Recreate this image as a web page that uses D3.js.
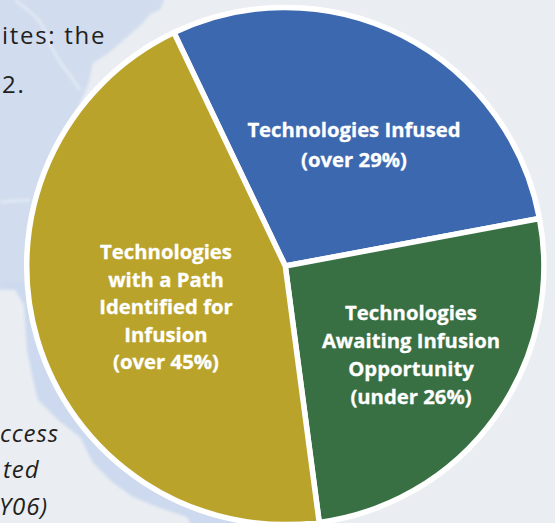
<!DOCTYPE html>
<html>
<head>
<meta charset="utf-8">
<script src="https://cdn.jsdelivr.net/npm/d3@7"></script>
<style>
html,body{margin:0;padding:0;background:#eaeef2;}
svg{display:block;}
</style>
</head>
<body>
<svg id="chart" width="555" height="523"></svg>
<script>
const categories = ["Technologies Infused", "Technologies Awaiting Infusion Opportunity", "Technologies with a Path Identified for Infusion"];
const shares = [29.2, 25.9, 45.1];
const sliceColors = ["#3c68af", "#387044", "#baa32b"];
const sliceLabels = [
  ["Technologies Infused", "(over 29%)"],
  ["Technologies", "Awaiting Infusion", "Opportunity", "(under 26%)"],
  ["Technologies", "with a Path", "Identified for", "Infusion", "(over 45%)"]
];
const labelAnchors = [[354, 137], [411, 320], [166, 259]];
const labelSteps = [30, 28, 27.5];
const bodyText = [
  {t: "ites: the", x: 2, y: 44, italic: false},
  {t: "2.", x: 2, y: 93, italic: false},
  {t: "ccess", x: 0, y: 442, italic: true},
  {t: "ted", x: 3, y: 478, italic: true},
  {t: "Y06)", x: -1, y: 515, italic: true}
];

const svg = d3.select("#chart");
const cx = 285.3, cy = 266, radius = 258.6;

const defs = svg.append("defs");
defs.append("filter").attr("id", "soft")
  .attr("x", "-5%").attr("y", "-5%").attr("width", "110%").attr("height", "110%")
  .append("feGaussianBlur").attr("stdDeviation", 1.6);

// Pale map of the coastline behind the pie
const land = [[-10,-10],[168,-10],[160,10],[150,14],[143,23],[127,37],[110,52],[93,63],[88,85],[80,103],[70,130],[60,160],[40,220],[30,290],[-10,290]];
const shore = [[-10,284],[14,288],[24,305],[27,350],[32,375],[38,400],[58,420],[80,437],[93,463],[112,482],[133,497],[160,508],[187,517],[200,540],[300,540],[300,300],[40,200],[30,280]];
const rivers = [[[15,0],[40,22],[52,48],[60,62],[72,78],[80,90]], [[0,202],[12,201],[30,200]]];
const outline = d3.line().curve(d3.curveLinearClosed);
const river = d3.line().curve(d3.curveCatmullRom);
const mapLayer = svg.append("g").attr("filter", "url(#soft)");
mapLayer.append("path").attr("d", outline(land)).attr("fill", "#d1dcee");
mapLayer.append("path").attr("d", outline(shore)).attr("fill", "#ccd9ee");
mapLayer.selectAll(".river").data(rivers).join("path").attr("class", "river")
  .attr("d", river).attr("fill", "none").attr("stroke", "#e4ebf5").attr("stroke-width", 2.5);

const pie = d3.pie().sort(null).value(d => d)
  .startAngle(-25.5 * Math.PI / 180)
  .endAngle(334.5 * Math.PI / 180);
const arc = d3.arc().innerRadius(0).outerRadius(radius);

svg.append("g").attr("transform", `translate(${cx},${cy})`)
  .selectAll("path").data(pie(shares)).join("path")
  .attr("d", arc)
  .attr("fill", (d, i) => sliceColors[i])
  .attr("stroke", "#fff").attr("stroke-width", 5.5).attr("stroke-linejoin", "round");

const fontFamily = "'Open Sans', 'Noto Sans', sans-serif";

sliceLabels.forEach((lines, i) => {
  const [ax, ay] = labelAnchors[i];
  svg.append("text").attr("text-anchor", "middle")
    .attr("font-family", fontFamily).attr("font-weight", 700)
    .attr("font-size", 20.3).attr("fill", "#fff")
    .attr("stroke", "#fff").attr("stroke-width", 0.3)
    .selectAll("tspan").data(lines).join("tspan")
    .attr("x", ax).attr("y", (d, j) => ay + j * labelSteps[i]).text(d => d);
});

svg.append("g").selectAll("text").data(bodyText).join("text")
  .attr("x", d => d.x).attr("y", d => d.y)
  .attr("font-family", fontFamily).attr("font-size", 24)
  .attr("letter-spacing", d => d.italic ? 0.9 : 1.7)
  .attr("font-style", d => d.italic ? "italic" : "normal")
  .attr("fill", "#231f20").text(d => d.t);
</script>
</body>
</html>
